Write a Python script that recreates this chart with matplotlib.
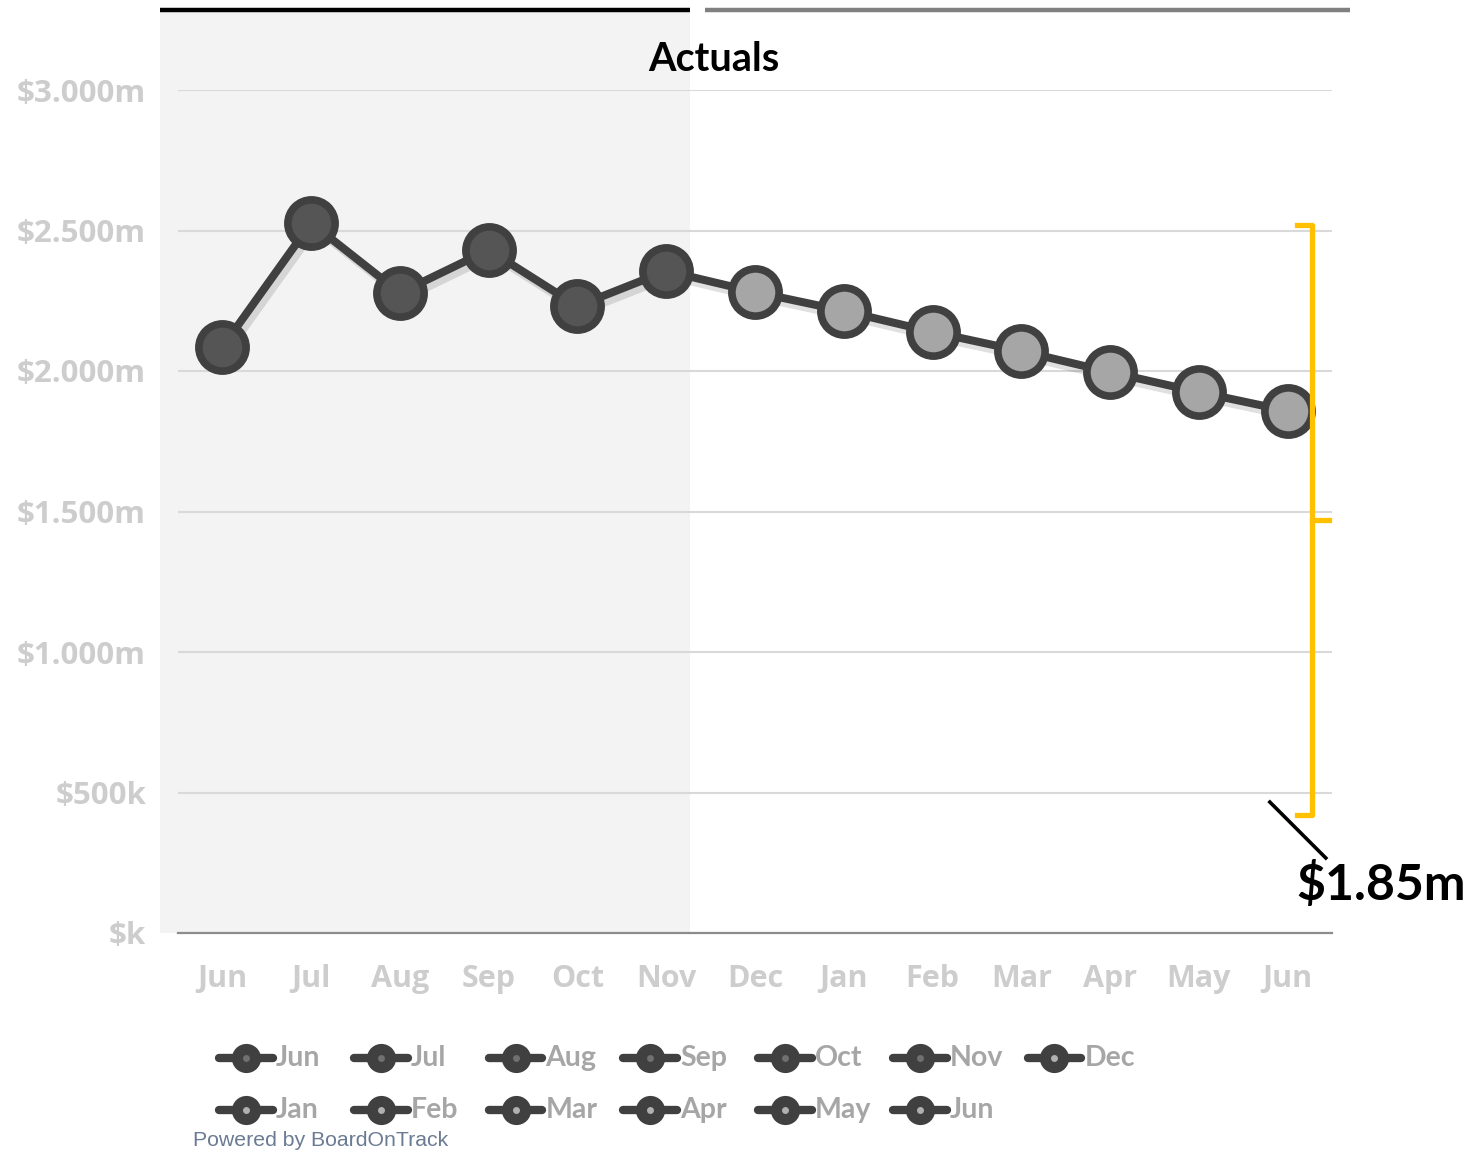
import matplotlib
matplotlib.use("Agg")
import matplotlib.pyplot as plt
import matplotlib.patheffects as pe
from matplotlib.patches import Rectangle

# ---- data -------------------------------------------------------------
MONTHS = ["Jun", "Jul", "Aug", "Sep", "Oct", "Nov", "Dec",
          "Jan", "Feb", "Mar", "Apr", "May", "Jun"]
ACTUAL_VALUES = [2.085e6, 2.527e6, 2.278e6, 2.431e6, 2.231e6, 2.356e6]
FORECAST_VALUES = [2.281e6, 2.214e6, 2.139e6, 2.071e6, 1.996e6, 1.925e6, 1.858e6]
Y_TICKS = [0, 0.5e6, 1.0e6, 1.5e6, 2.0e6, 2.5e6, 3.0e6]
Y_TICK_LABELS = ["$k", "$500k", "$1.000m", "$1.500m", "$2.000m", "$2.500m", "$3.000m"]
ENDING_LABEL = "$1.85m"
TITLE = "Actuals"

# ---- styling ----------------------------------------------------------
W, H = 1468, 1150
LINE_C = "#404040"
ACTUAL_FILL = "#555555"
FORECAST_FILL = "#a6a6a6"
SHADE_C = "#f3f3f3"
GRID_C = "#d9d9d9"
TICK_C = "#cdcdcd"
YELLOW = "#ffc000"

plt.rcParams["font.family"] = ["Lato", "DejaVu Sans"]

fig = plt.figure(figsize=(W / 100, H / 100), dpi=100)
ax = fig.add_axes([178 / W, 1 - 933 / H, (1332 - 178) / W, (933 - 90) / H])
ax.set_facecolor("none")

values = ACTUAL_VALUES + FORECAST_VALUES
x = list(range(len(values)))
n_act = len(ACTUAL_VALUES)

# shaded "actuals" period, extends a bit beyond the axes
ax.add_patch(Rectangle((-0.70, 0), 5.97, 3.285e6, facecolor=SHADE_C,
                       edgecolor="none", zorder=0, clip_on=False))
# top period bars
ax.plot([-0.70, 5.27], [3.285e6, 3.285e6], color="black", lw=3.2,
        solid_capstyle="butt", clip_on=False, zorder=1)
ax.plot([5.44, 12.70], [3.285e6, 3.285e6], color="#808080", lw=3.2,
        solid_capstyle="butt", clip_on=False, zorder=1)

# main line
ax.plot(x, values, color=LINE_C, lw=5.8, zorder=3, solid_joinstyle="round",
        path_effects=[pe.SimpleLineShadow(offset=(3, -4), shadow_color="#000000",
                                          alpha=0.12),
                      pe.Normal()])
ax.plot(x[:n_act], ACTUAL_VALUES, ls="none", marker="o", ms=34,
        mfc=ACTUAL_FILL, mec=LINE_C, mew=5.5, zorder=4)
ax.plot(x[n_act:], FORECAST_VALUES, ls="none", marker="o", ms=34,
        mfc=FORECAST_FILL, mec=LINE_C, mew=5.5, zorder=4)

# axes, grid, ticks
ax.set_xlim(-0.5, len(values) - 0.5)
ax.set_ylim(0, 3.0e6)
ax.set_yticks(Y_TICKS)
ax.set_yticklabels(Y_TICK_LABELS, fontfamily=["Open Sans", "DejaVu Sans"],
                   fontweight="bold", fontsize=22.5, color=TICK_C)
ax.set_xticks(x)
ax.set_xticklabels(MONTHS, fontfamily=["Open Sans", "DejaVu Sans"],
                   fontweight="bold", fontsize=22, color=TICK_C)
ax.tick_params(axis="y", length=0, pad=23)
ax.tick_params(axis="x", length=0, pad=22)
ax.set_axisbelow(True)
ax.grid(axis="y", color=GRID_C, lw=1.5)
for side in ("top", "right", "left"):
    ax.spines[side].set_visible(False)
ax.spines["bottom"].set_color("#8c8c8c")
ax.spines["bottom"].set_linewidth(1.6)

ax.text(5.54, 3.107e6, TITLE, ha="center", va="center", fontsize=28.5,
        fontweight="bold", color="black", clip_on=False)

# yellow bracket at the last point
bx = 12.28
ax.plot([12.11, bx, bx, 12.11], [2.520e6, 2.520e6, 0.420e6, 0.420e6],
        color=YELLOW, lw=3.8, clip_on=False, zorder=5, solid_joinstyle="round")
ax.plot([bx, 12.47], [1.470e6, 1.470e6], color=YELLOW, lw=3.8,
        clip_on=False, zorder=5)
ax.plot([11.80, 12.43], [0.466e6, 0.267e6], color="black", lw=2.6,
        clip_on=False, zorder=5)
ax.text(12.10, 0.174e6, ENDING_LABEL, ha="left", va="center", fontsize=36,
        fontweight="bold", color="black", clip_on=False)

# legend, laid out on its own axes (7 columns x 2 rows)
lg = fig.add_axes([178 / W, 1 - 1135 / H, (1332 - 178) / W, 105 / H])
lg.set_xlim(-0.505, 8.06)
lg.set_ylim(1.48, -0.538)
lg.axis("off")
for i, name in enumerate(MONTHS):
    col, row = i % 7, i // 7
    dot = "#707070" if i < n_act else "#b0b0b0"
    lg.plot([col - 0.2, col + 0.2], [row, row], color=LINE_C, lw=6,
            solid_capstyle="round")
    lg.plot([col], [row], marker="o", ms=21, mfc=LINE_C, mec=LINE_C, mew=0)
    lg.plot([col], [row], marker="o", ms=5, mfc=dot, mec=dot, mew=0)
    lg.text(col + 0.222, row, name, ha="left", va="center", fontsize=20.5,
            fontweight="bold", color="#a6a6a6")

fig.text(193 / W, 1 - 1140 / H, "Powered by BoardOnTrack", ha="left",
         va="center", fontsize=15.3, color="#6b7b93",
         fontfamily=["Liberation Sans", "DejaVu Sans"])

fig.savefig("out.png", dpi=100, facecolor="white")
